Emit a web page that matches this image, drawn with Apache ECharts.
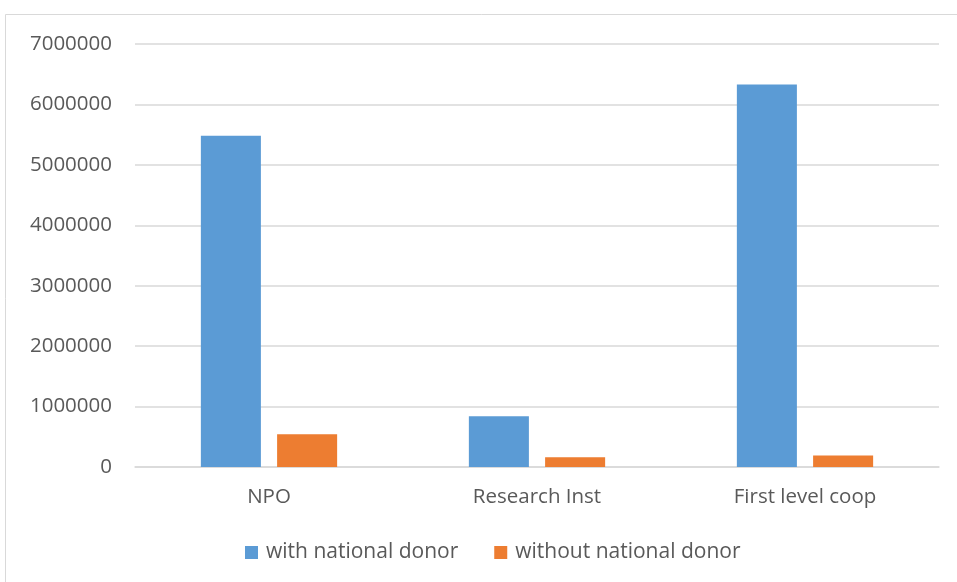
<!DOCTYPE html>
<html>
<head>
<meta charset="utf-8">
<script src="https://cdn.jsdelivr.net/npm/echarts@6/dist/echarts.min.js"></script>
<style>
  html, body { margin: 0; padding: 0; background: #fff; }
  #chart { width: 957px; height: 582px; }
</style>
</head>
<body>
<div id="chart"></div>
<script>
// Funding by organisation type, split by presence of a national donor
const categories = ['NPO', 'Research Inst', 'First level coop'];
const withNationalDonor = [5480000, 840000, 6330000];
const withoutNationalDonor = [540000, 160000, 190000];
const seriesNames = ['with national donor', 'without national donor'];

const textColor = '#595959';
const fontFamily = '"Open Sans", "Liberation Sans", sans-serif';

const chart = echarts.init(document.getElementById('chart'));
chart.setOption({
  animation: false,
  backgroundColor: '#fff',
  graphic: [{
    type: 'rect',
    shape: { x: 5.5, y: 14.5, width: 960, height: 580 },
    style: { fill: 'none', stroke: '#d9d9d9', lineWidth: 1 },
    silent: true
  }],
  grid: { left: 135, right: 18, top: 44, bottom: 115 },
  legend: {
    bottom: 14,
    left: 240,
    itemWidth: 13,
    itemHeight: 13,
    itemGap: 36,
    icon: 'rect',
    textStyle: { color: textColor, fontSize: 21, fontFamily: fontFamily, padding: [0, 0, 0, 3] },
    data: seriesNames
  },
  xAxis: {
    type: 'category',
    data: categories,
    axisLine: { lineStyle: { color: '#d9d9d9', width: 1.5 } },
    axisTick: { show: false },
    axisLabel: { color: textColor, fontSize: 20.5, fontFamily: fontFamily, margin: 20 }
  },
  yAxis: {
    type: 'value',
    min: 0,
    max: 7000000,
    interval: 1000000,
    axisLine: { show: false },
    axisTick: { show: false },
    splitLine: { lineStyle: { color: '#d9d9d9', width: 1.5 } },
    axisLabel: {
      color: textColor, fontSize: 20.5, fontFamily: fontFamily, margin: 23,
      formatter: (v) => String(v)
    }
  },
  series: [
    {
      name: seriesNames[0],
      type: 'bar',
      data: withNationalDonor,
      barWidth: '22.4%',
      barGap: '27%',
      itemStyle: { color: '#5b9bd5' }
    },
    {
      name: seriesNames[1],
      type: 'bar',
      data: withoutNationalDonor,
      barWidth: '22.4%',
      itemStyle: { color: '#ed7d31' }
    }
  ]
});
</script>
</body>
</html>
